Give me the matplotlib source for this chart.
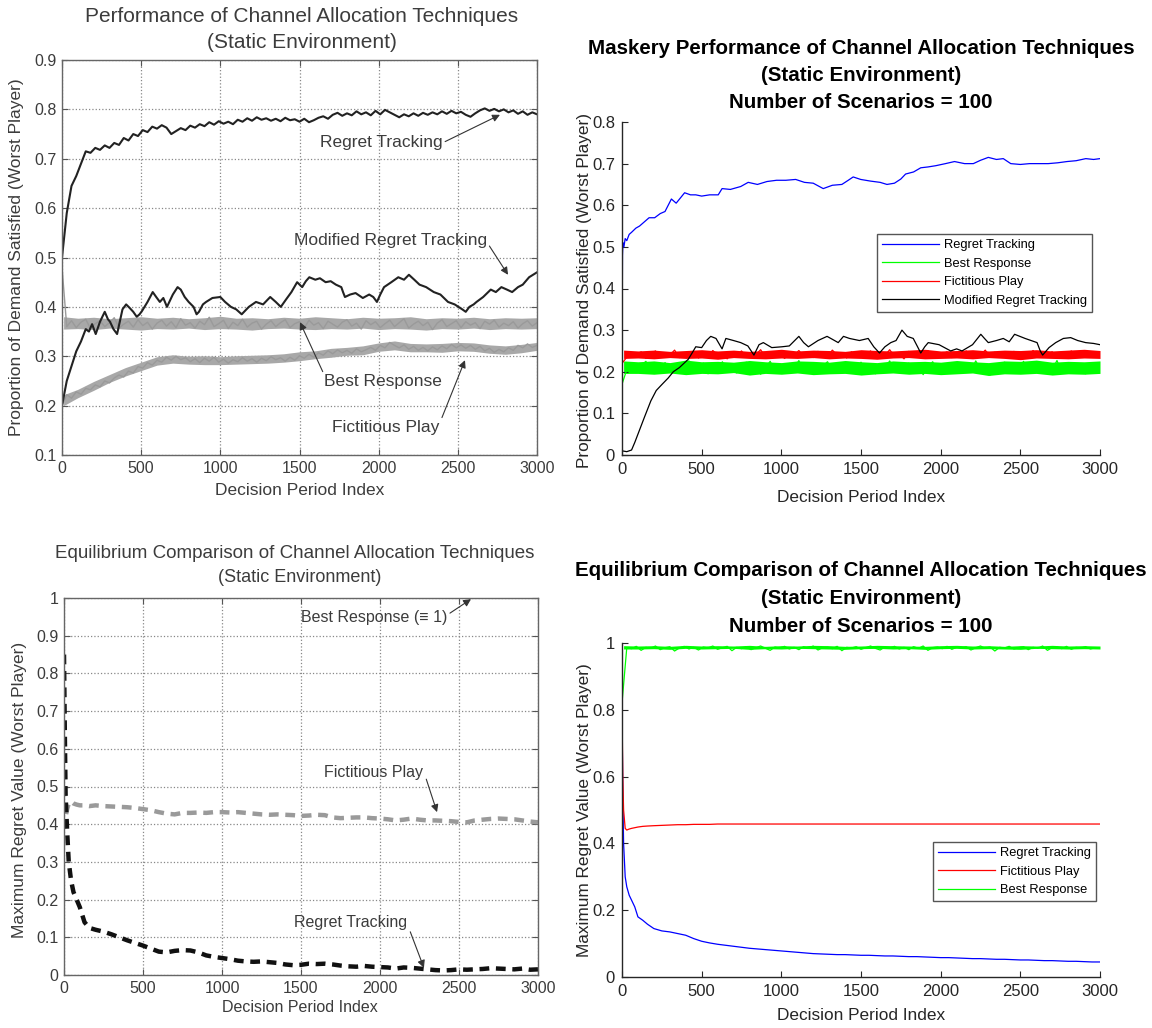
import numpy as np
import matplotlib
matplotlib.use("Agg")
import matplotlib.pyplot as plt

# ---------------- data ----------------
x_ticks = [0, 500, 1000, 1500, 2000, 2500, 3000]
x_ticklabels = ["0", "500", "1000", "1500", "2000", "2500", "3000"]

# x positions where the upper / lower edges of the noisy bands were read
band_x = [10, 100, 200, 300, 400, 500, 600, 700, 800, 900, 1000, 1100, 1200, 1300, 1400, 1500, 1600,
          1700, 1800, 1900, 2000, 2100, 2200, 2300, 2400, 2500, 2600, 2700, 2800, 2900, 3000]

# top left: Performance (scanned figure)
tl_rt = [0.50, 0.59, 0.645, 0.665, 0.69, 0.715, 0.712, 0.722, 0.718, 0.727, 0.722, 0.732, 0.728, 0.742,
         0.737, 0.75, 0.746, 0.758, 0.754, 0.765, 0.761, 0.768, 0.763, 0.75, 0.756, 0.762, 0.758, 0.767,
         0.763, 0.77, 0.766, 0.774, 0.769, 0.776, 0.771, 0.775, 0.77, 0.779, 0.775, 0.782, 0.777, 0.784,
         0.779, 0.782, 0.777, 0.781, 0.776, 0.783, 0.778, 0.78, 0.775, 0.781, 0.774, 0.778, 0.783, 0.786,
         0.781, 0.789, 0.793, 0.787, 0.792, 0.788, 0.796, 0.79, 0.794, 0.788, 0.797, 0.79, 0.799, 0.794,
         0.789, 0.784, 0.79, 0.786, 0.792, 0.787, 0.793, 0.789, 0.794, 0.79, 0.796, 0.791, 0.797, 0.792,
         0.795, 0.789, 0.785, 0.792, 0.798, 0.802, 0.797, 0.801, 0.796, 0.8, 0.794, 0.798, 0.791, 0.796,
         0.789, 0.794, 0.79]
tl_br = [0.48, 0.36, 0.372, 0.358, 0.369, 0.375, 0.356, 0.366, 0.372, 0.36, 0.368, 0.378, 0.357, 0.365,
         0.371, 0.359, 0.374, 0.362, 0.369, 0.355, 0.367, 0.373, 0.361, 0.37, 0.358, 0.376, 0.363, 0.368,
         0.357, 0.371, 0.364, 0.379, 0.36, 0.366, 0.373, 0.356, 0.369, 0.362, 0.375, 0.359, 0.367, 0.371,
         0.355, 0.365, 0.372, 0.36, 0.368, 0.374, 0.358, 0.366, 0.37, 0.357, 0.373, 0.363, 0.368, 0.356,
         0.371, 0.365, 0.359, 0.369, 0.374, 0.361, 0.367, 0.355, 0.372, 0.364, 0.37, 0.358, 0.366, 0.373,
         0.36, 0.368, 0.376, 0.357, 0.365, 0.371, 0.362, 0.369, 0.354, 0.367, 0.374, 0.36, 0.366, 0.372,
         0.358, 0.37, 0.363, 0.368, 0.356, 0.371, 0.365, 0.373, 0.359, 0.367, 0.362, 0.37, 0.357, 0.366,
         0.372, 0.361, 0.368]
tl_br_lo = [0.355, 0.356, 0.354, 0.357, 0.355, 0.353, 0.356, 0.355, 0.357, 0.354, 0.356, 0.355, 0.353,
            0.356, 0.357, 0.355, 0.354, 0.356, 0.355, 0.357, 0.354, 0.356, 0.355, 0.353, 0.356, 0.355,
            0.357, 0.354, 0.356, 0.355, 0.356]
tl_br_hi = [0.38, 0.377, 0.379, 0.376, 0.378, 0.38, 0.377, 0.379, 0.376, 0.378, 0.381, 0.377, 0.378,
            0.376, 0.379, 0.377, 0.38, 0.378, 0.376, 0.379, 0.377, 0.378, 0.38, 0.376, 0.378, 0.377,
            0.379, 0.376, 0.378, 0.377, 0.378]
tl_fp = [0.20, 0.222, 0.215, 0.228, 0.223, 0.235, 0.232, 0.242, 0.238, 0.25, 0.246, 0.256, 0.262, 0.258,
         0.27, 0.266, 0.279, 0.276, 0.287, 0.282, 0.292, 0.288, 0.298, 0.292, 0.3, 0.293, 0.297, 0.289,
         0.295, 0.287, 0.296, 0.29, 0.298, 0.288, 0.294, 0.286, 0.293, 0.289, 0.297, 0.29, 0.295, 0.288,
         0.296, 0.291, 0.299, 0.293, 0.297, 0.29, 0.298, 0.292, 0.301, 0.296, 0.304, 0.298, 0.307, 0.302,
         0.311, 0.305, 0.313, 0.307, 0.312, 0.306, 0.315, 0.309, 0.313, 0.318, 0.312, 0.322, 0.317, 0.328,
         0.322, 0.317, 0.323, 0.314, 0.32, 0.312, 0.318, 0.311, 0.319, 0.313, 0.321, 0.315, 0.324, 0.317,
         0.323, 0.316, 0.322, 0.314, 0.32, 0.311, 0.316, 0.308, 0.314, 0.309, 0.317, 0.312, 0.322, 0.317,
         0.325, 0.318, 0.322]
tl_fp_lo = [0.2, 0.216, 0.231, 0.247, 0.26, 0.271, 0.282, 0.286, 0.284, 0.283, 0.283, 0.284, 0.285, 0.286,
            0.288, 0.291, 0.295, 0.298, 0.302, 0.303, 0.31, 0.313, 0.309, 0.309, 0.308, 0.311, 0.31, 0.306,
            0.304, 0.307, 0.312]
tl_fp_hi = [0.222, 0.233, 0.249, 0.263, 0.277, 0.288, 0.299, 0.303, 0.3, 0.301, 0.299, 0.301, 0.302,
            0.303, 0.305, 0.309, 0.311, 0.316, 0.318, 0.321, 0.327, 0.331, 0.326, 0.325, 0.326, 0.328,
            0.327, 0.323, 0.321, 0.324, 0.328]
tl_mrt_x = [0, 30, 60, 90, 120, 150, 170, 190, 213, 240, 270, 290, 303, 325, 348, 365, 382, 405, 427, 450,
            472, 490, 506, 540, 573, 595, 618, 640, 663, 700, 730, 750, 775, 800, 831, 850, 865, 890, 910,
            950, 1000, 1030, 1067, 1100, 1135, 1180, 1225, 1270, 1315, 1350, 1382, 1415, 1449, 1485, 1517,
            1540, 1562, 1600, 1629, 1665, 1697, 1730, 1764, 1775, 1787, 1820, 1854, 1900, 1940, 1966, 1989,
            2010, 2034, 2080, 2124, 2160, 2191, 2225, 2258, 2300, 2348, 2390, 2438, 2480, 2528, 2550, 2573,
            2600, 2618, 2660, 2708, 2740, 2775, 2810, 2843, 2880, 2910, 2950, 3000]
tl_mrt_y = [0.20, 0.25, 0.28, 0.31, 0.33, 0.355, 0.35, 0.365, 0.345, 0.37, 0.39, 0.375, 0.37, 0.355, 0.345,
            0.37, 0.395, 0.405, 0.398, 0.39, 0.38, 0.385, 0.392, 0.41, 0.43, 0.42, 0.41, 0.418, 0.40, 0.425,
            0.44, 0.435, 0.42, 0.41, 0.40, 0.385, 0.39, 0.405, 0.41, 0.418, 0.42, 0.41, 0.40, 0.395, 0.385,
            0.40, 0.41, 0.405, 0.42, 0.41, 0.40, 0.415, 0.43, 0.45, 0.44, 0.452, 0.46, 0.455, 0.458, 0.45,
            0.452, 0.445, 0.44, 0.43, 0.42, 0.425, 0.428, 0.418, 0.425, 0.42, 0.41, 0.425, 0.44, 0.45, 0.46,
            0.455, 0.465, 0.455, 0.445, 0.44, 0.43, 0.425, 0.41, 0.405, 0.395, 0.39, 0.40, 0.405, 0.41, 0.42,
            0.435, 0.43, 0.44, 0.435, 0.43, 0.44, 0.445, 0.46, 0.47]

# top right: Maskery performance
tr_rt_x = [0, 3, 6, 12, 20, 30, 45, 60, 87, 110, 140, 170, 205, 240, 270, 290, 310, 340, 393, 430, 463, 500,
           550, 604, 628, 680, 745, 792, 850, 910, 970, 1028, 1090, 1145, 1200, 1263, 1320, 1380, 1420, 1451,
           1498, 1560, 1620, 1663, 1710, 1750, 1780, 1830, 1875, 1920, 1969, 2030, 2087, 2150, 2205, 2250,
           2299, 2350, 2393, 2440, 2500, 2558, 2620, 2675, 2735, 2793, 2850, 2911, 2960, 3000]
tr_rt_y = [0.20, 0.48, 0.51, 0.50, 0.52, 0.515, 0.53, 0.535, 0.545, 0.55, 0.56, 0.57, 0.57, 0.58, 0.585, 0.60,
           0.615, 0.605, 0.63, 0.625, 0.625, 0.622, 0.625, 0.625, 0.64, 0.638, 0.645, 0.655, 0.65, 0.657,
           0.66, 0.66, 0.662, 0.655, 0.653, 0.64, 0.648, 0.65, 0.66, 0.668, 0.662, 0.658, 0.655, 0.65,
           0.653, 0.663, 0.675, 0.68, 0.69, 0.692, 0.695, 0.70, 0.705, 0.70, 0.70, 0.708, 0.715, 0.71,
           0.712, 0.70, 0.698, 0.70, 0.70, 0.70, 0.702, 0.705, 0.707, 0.712, 0.71, 0.712]
tr_br = [0.17, 0.205, 0.22, 0.198, 0.215, 0.225, 0.2, 0.212, 0.196, 0.222, 0.207, 0.218, 0.199, 0.214, 0.226,
         0.201, 0.209, 0.221, 0.195, 0.213, 0.204, 0.224, 0.2, 0.216, 0.197, 0.211, 0.223, 0.203, 0.219,
         0.194, 0.21, 0.225, 0.202, 0.215, 0.198, 0.22, 0.206, 0.227, 0.199, 0.212, 0.218, 0.196, 0.214,
         0.224, 0.201, 0.209, 0.22, 0.197, 0.216, 0.205, 0.223, 0.2, 0.213, 0.195, 0.219, 0.208, 0.226,
         0.202, 0.214, 0.198, 0.221, 0.206, 0.217, 0.193, 0.212, 0.224, 0.2, 0.215, 0.204, 0.222, 0.197,
         0.211, 0.219, 0.201, 0.226, 0.205, 0.213, 0.192, 0.218, 0.207, 0.223, 0.199, 0.214, 0.203, 0.225,
         0.196, 0.212, 0.22, 0.2, 0.216, 0.205, 0.227, 0.198, 0.213, 0.221, 0.202, 0.217, 0.195, 0.211,
         0.222, 0.206]
tr_br_lo = [0.196, 0.196, 0.194, 0.197, 0.193, 0.196, 0.195, 0.198, 0.192, 0.196, 0.194, 0.197, 0.193,
            0.195, 0.196, 0.192, 0.195, 0.197, 0.194, 0.196, 0.193, 0.195, 0.197, 0.191, 0.195, 0.194,
            0.196, 0.192, 0.195, 0.194, 0.196]
tr_br_hi = [0.226, 0.224, 0.226, 0.222, 0.228, 0.224, 0.225, 0.223, 0.227, 0.224, 0.222, 0.226, 0.225,
            0.223, 0.227, 0.224, 0.222, 0.226, 0.224, 0.225, 0.223, 0.227, 0.224, 0.222, 0.226, 0.225,
            0.228, 0.223, 0.225, 0.224, 0.226]
tr_fp = [0.22, 0.235, 0.245, 0.238, 0.248, 0.232, 0.242, 0.25, 0.236, 0.244, 0.24, 0.252, 0.234, 0.246,
         0.239, 0.249, 0.233, 0.243, 0.237, 0.251, 0.24, 0.245, 0.231, 0.247, 0.238, 0.25, 0.235, 0.244,
         0.241, 0.253, 0.236, 0.246, 0.239, 0.248, 0.232, 0.243, 0.24, 0.251, 0.237, 0.245, 0.234, 0.249,
         0.242, 0.236, 0.252, 0.24, 0.246, 0.233, 0.248, 0.238, 0.244, 0.241, 0.25, 0.235, 0.247, 0.239,
         0.253, 0.237, 0.243, 0.231, 0.249, 0.24, 0.246, 0.236, 0.251, 0.238, 0.244, 0.242, 0.248, 0.234,
         0.245, 0.239, 0.25, 0.237, 0.243, 0.241, 0.252, 0.235, 0.247, 0.238, 0.244, 0.24, 0.249, 0.233,
         0.246, 0.239, 0.251, 0.236, 0.245, 0.242, 0.248, 0.237, 0.243, 0.24, 0.25, 0.235, 0.246, 0.239,
         0.244, 0.241, 0.247]
tr_fp_lo = [0.232, 0.233, 0.231, 0.234, 0.232, 0.233, 0.23, 0.234, 0.232, 0.231, 0.233, 0.232, 0.234,
            0.231, 0.233, 0.232, 0.23, 0.233, 0.234, 0.231, 0.232, 0.233, 0.231, 0.234, 0.232, 0.229,
            0.233, 0.232, 0.231, 0.233, 0.232]
tr_fp_hi = [0.252, 0.25, 0.252, 0.249, 0.251, 0.253, 0.25, 0.252, 0.249, 0.251, 0.254, 0.25, 0.252,
            0.251, 0.249, 0.253, 0.251, 0.25, 0.252, 0.254, 0.25, 0.251, 0.253, 0.25, 0.252, 0.251,
            0.253, 0.25, 0.252, 0.254, 0.251]
tr_mrt_x = [0, 30, 60, 80, 110, 140, 181, 215, 252, 290, 322, 360, 416, 440, 463, 500, 530, 557, 590, 628,
            652, 700, 745, 790, 828, 860, 887, 940, 1004, 1050, 1110, 1140, 1170, 1230, 1287, 1320, 1357,
            1390, 1428, 1490, 1545, 1580, 1616, 1650, 1687, 1720, 1757, 1790, 1828, 1855, 1875, 1900, 1922,
            1990, 2063, 2100, 2134, 2200, 2252, 2275, 2299, 2350, 2393, 2430, 2464, 2530, 2605, 2625, 2640,
            2680, 2722, 2770, 2816, 2860, 2910, 2960, 3000]
tr_mrt_y = [0.01, 0.008, 0.012, 0.03, 0.06, 0.09, 0.13, 0.155, 0.17, 0.185, 0.20, 0.21, 0.23, 0.245, 0.26,
            0.258, 0.275, 0.285, 0.28, 0.255, 0.28, 0.275, 0.27, 0.262, 0.24, 0.265, 0.27, 0.258, 0.26,
            0.262, 0.285, 0.27, 0.26, 0.275, 0.285, 0.278, 0.27, 0.285, 0.28, 0.275, 0.28, 0.26, 0.245,
            0.26, 0.27, 0.275, 0.30, 0.285, 0.28, 0.26, 0.245, 0.26, 0.27, 0.265, 0.25, 0.255, 0.25, 0.265,
            0.29, 0.28, 0.27, 0.275, 0.28, 0.272, 0.29, 0.28, 0.27, 0.25, 0.24, 0.258, 0.27, 0.28, 0.282,
            0.275, 0.27, 0.268, 0.265]

# bottom panels: maximum regret
eq_x_early = [0, 5, 10, 20, 30, 45, 60, 80, 100, 130, 160]
eq_x = eq_x_early + list(range(200, 3001, 50))
bl_rt = [0.85, 0.65, 0.48, 0.38, 0.3, 0.25, 0.22, 0.2, 0.18, 0.14, 0.125, 0.12, 0.115, 0.108, 0.1, 0.092,
         0.085, 0.078, 0.07, 0.062, 0.06, 0.064, 0.066, 0.065, 0.06, 0.052, 0.048, 0.045, 0.042, 0.038,
         0.036, 0.035, 0.036, 0.034, 0.032, 0.028, 0.026, 0.027, 0.03, 0.029, 0.03, 0.028, 0.025, 0.023,
         0.022, 0.024, 0.022, 0.021, 0.02, 0.017, 0.02, 0.019, 0.017, 0.015, 0.013, 0.012, 0.013, 0.015,
         0.014, 0.015, 0.016, 0.018, 0.017, 0.016, 0.015, 0.017, 0.014, 0.015]
bl_fp = [0.5, 0.43, 0.42, 0.44, 0.455, 0.46, 0.455, 0.452, 0.45, 0.45, 0.448, 0.45, 0.448, 0.447, 0.446,
         0.445, 0.443, 0.44, 0.437, 0.432, 0.428, 0.426, 0.43, 0.43, 0.431, 0.43, 0.432, 0.432, 0.431,
         0.432, 0.43, 0.428, 0.426, 0.425, 0.426, 0.425, 0.424, 0.422, 0.423, 0.425, 0.424, 0.418, 0.416,
         0.417, 0.418, 0.418, 0.416, 0.415, 0.413, 0.41, 0.412, 0.415, 0.412, 0.41, 0.41, 0.409, 0.408,
         0.406, 0.405, 0.41, 0.412, 0.414, 0.415, 0.414, 0.413, 0.41, 0.407, 0.405]
bl_br_x = [0, 3000]
bl_br = [1.0, 1.0]

br_rt = [0.8, 0.55, 0.4, 0.3, 0.27, 0.245, 0.23, 0.21, 0.18, 0.17, 0.158, 0.145, 0.138, 0.135, 0.13, 0.125,
         0.115, 0.107, 0.102, 0.098, 0.095, 0.092, 0.089, 0.086, 0.084, 0.082, 0.08, 0.078, 0.076, 0.074,
         0.072, 0.07, 0.069, 0.068, 0.067, 0.067, 0.066, 0.065, 0.065, 0.064, 0.063, 0.063, 0.062, 0.061,
         0.061, 0.06, 0.059, 0.058, 0.058, 0.057, 0.056, 0.055, 0.055, 0.054, 0.053, 0.053, 0.052, 0.051,
         0.051, 0.05, 0.049, 0.049, 0.048, 0.047, 0.047, 0.046, 0.045, 0.045]
br_fp = [0.8, 0.6, 0.5, 0.445, 0.44, 0.443, 0.445, 0.447, 0.449, 0.451, 0.452, 0.453, 0.454, 0.455, 0.456,
         0.456, 0.457, 0.457, 0.457, 0.458, 0.458, 0.458, 0.458, 0.458, 0.458, 0.458, 0.458, 0.458, 0.458,
         0.458, 0.458, 0.458, 0.458, 0.458, 0.458, 0.458, 0.458, 0.458, 0.458, 0.458, 0.458, 0.458, 0.458,
         0.458, 0.458, 0.458, 0.458, 0.458, 0.458, 0.458, 0.458, 0.458, 0.458, 0.458, 0.458, 0.458, 0.458,
         0.458, 0.458, 0.458, 0.458, 0.458, 0.458, 0.458, 0.458, 0.458, 0.458, 0.458]
br_br = [0.82, 0.986, 0.983, 0.99, 0.978, 0.987, 0.984, 0.991, 0.98, 0.986, 0.989, 0.976, 0.985, 0.99, 0.982,
         0.987, 0.979, 0.988, 0.985, 0.991, 0.981, 0.986, 0.99, 0.977, 0.987, 0.983, 0.989, 0.98, 0.986,
         0.991, 0.984, 0.978, 0.988, 0.985, 0.99, 0.982, 0.987, 0.98, 0.989, 0.984, 0.991, 0.979, 0.986,
         0.988, 0.983, 0.99, 0.977, 0.987, 0.985, 0.989, 0.981, 0.986, 0.991, 0.984, 0.979, 0.988, 0.985,
         0.99, 0.982, 0.987, 0.98, 0.989, 0.984, 0.991, 0.978, 0.986, 0.988, 0.983, 0.99, 0.981, 0.987,
         0.985, 0.989, 0.979, 0.986, 0.991, 0.984, 0.988, 0.976, 0.987, 0.985, 0.99, 0.982, 0.986, 0.989,
         0.98, 0.987, 0.984, 0.991, 0.978, 0.986, 0.988, 0.983, 0.99, 0.981, 0.987, 0.985, 0.989, 0.982,
         0.986, 0.984]
br_br_lo = [0.982, 0.982, 0.983, 0.981, 0.984, 0.982, 0.983, 0.984, 0.981, 0.983, 0.982, 0.984, 0.983,
            0.982, 0.981, 0.983, 0.984, 0.982, 0.983, 0.981, 0.983, 0.984, 0.982, 0.983, 0.982, 0.981,
            0.984, 0.983, 0.982, 0.983, 0.982]
br_br_hi = [0.992, 0.991, 0.992, 0.99, 0.993, 0.991, 0.992, 0.991, 0.993, 0.99, 0.992, 0.991, 0.993,
            0.992, 0.99, 0.991, 0.993, 0.992, 0.991, 0.99, 0.992, 0.993, 0.991, 0.992, 0.99, 0.992,
            0.991, 0.993, 0.991, 0.992, 0.991]

# ---------------- fonts / helpers ----------------
FF = ["Liberation Sans", "DejaVu Sans"]
GRAYTXT = "#3c3c3c"
RTXT = "#262626"

W, H = 1152, 1028
fig = plt.figure(figsize=(W / 100, H / 100), dpi=100)


def px_axes(l, t, r, b):
    return fig.add_axes([l / W, 1 - b / H, (r - l) / W, (b - t) / H])


def style_left(ax, yt, ytl):
    ax.set_xlim(0, 3000)
    ax.set_ylim(yt[0], yt[-1])
    ax.set_xticks(x_ticks)
    ax.set_xticklabels(x_ticklabels, family=FF, fontsize=11.5, color=GRAYTXT)
    ax.set_yticks(yt)
    ax.set_yticklabels(ytl, family=FF, fontsize=11.5, color=GRAYTXT)
    ax.tick_params(direction="in", length=4, top=True, right=True, color="#555555", pad=4)
    for s in ax.spines.values():
        s.set_color("#666666")
        s.set_linewidth(1.0)
    ax.grid(True, ls=":", color="#888888", lw=0.9)
    ax.set_axisbelow(True)


def style_right(ax, yt, ytl):
    ax.set_xlim(0, 3000)
    ax.set_ylim(yt[0], yt[-1])
    ax.set_xticks(x_ticks)
    ax.set_xticklabels(x_ticklabels, family=FF, fontsize=12, color=RTXT)
    ax.set_yticks(yt)
    ax.set_yticklabels(ytl, family=FF, fontsize=12, color=RTXT)
    ax.tick_params(direction="in", length=4, color=RTXT, pad=5)
    ax.spines["top"].set_visible(False)
    ax.spines["right"].set_visible(False)
    for s in ("left", "bottom"):
        ax.spines[s].set_color(RTXT)
        ax.spines[s].set_linewidth(1.0)


def right_legend(ax, anchor):
    leg = ax.legend(loc="upper right", bbox_to_anchor=anchor, prop=dict(family=FF, size=9.3),
                    fancybox=False, framealpha=1, edgecolor="#555555", handlelength=4.4,
                    borderpad=0.4, labelspacing=0.5, handletextpad=0.4, borderaxespad=0)
    leg.get_frame().set_linewidth(1.0)


arrow = dict(arrowstyle="-|>", color="#333333", lw=0.8, mutation_scale=11, shrinkA=0, shrinkB=0)

# ---------------- top left ----------------
ax1 = px_axes(62, 60, 537, 455)
ax1.fill_between(band_x, tl_br_lo, tl_br_hi, color="#a8a8a8", lw=0)
ax1.plot(np.linspace(0, 3000, len(tl_br)), tl_br, color="#9a9a9a", lw=1.0)
ax1.fill_between(band_x, tl_fp_lo, tl_fp_hi, color="#a8a8a8", lw=0)
ax1.plot(np.linspace(0, 3000, len(tl_fp)), tl_fp, color="#9a9a9a", lw=1.0)
ax1.plot(tl_mrt_x, tl_mrt_y, color="#222222", lw=1.5)
ax1.plot(np.linspace(0, 3000, len(tl_rt)), tl_rt, color="#222222", lw=1.5)
style_left(ax1, [0.1, 0.2, 0.3, 0.4, 0.5, 0.6, 0.7, 0.8, 0.9],
           ["0.1", "0.2", "0.3", "0.4", "0.5", "0.6", "0.7", "0.8", "0.9"])
ann = dict(family=FF, fontsize=12.5, color=GRAYTXT, ha="center", va="center")
ax1.annotate("Regret Tracking", xy=(2766, 0.789), xytext=(2015, 0.732),
             arrowprops=dict(arrow, relpos=(1, 0.5)), **ann)
ax1.annotate("Modified Regret Tracking", xy=(2817, 0.465), xytext=(2072, 0.535),
             arrowprops=dict(arrow, relpos=(1, 0.4)), **ann)
ax1.annotate("Best Response", xy=(1503, 0.369), xytext=(2027, 0.248),
             arrowprops=dict(arrow, relpos=(0, 1)), **ann)
ax1.annotate("Fictitious Play", xy=(2545, 0.292), xytext=(2046, 0.155),
             arrowprops=dict(arrow, relpos=(1, 0.8)), **ann)
fig.text(302 / W, 1 - 17 / H, "Performance of Channel Allocation Techniques", family=FF,
         fontsize=15, color=GRAYTXT, ha="center", va="center")
fig.text(302 / W, 1 - 42 / H, "(Static Environment)", family=FF,
         fontsize=15, color=GRAYTXT, ha="center", va="center")
fig.text(300 / W, 1 - 490 / H, "Decision Period Index", family=FF, fontsize=12.5,
         color=GRAYTXT, ha="center", va="center")
fig.text(17 / W, 1 - 257 / H, "Proportion of Demand Satisfied (Worst Player)", family=FF,
         fontsize=12.5, color=GRAYTXT, ha="center", va="center", rotation=90)

# ---------------- top right ----------------
ax2 = px_axes(622, 122, 1100, 455)
ax2.plot(tr_rt_x, tr_rt_y, color="#0000ff", lw=0.9, label="Regret Tracking")
ax2.fill_between(band_x, tr_br_lo, tr_br_hi, color="#00ff00", lw=0)
ax2.plot(np.linspace(0, 3000, len(tr_br)), tr_br, color="#00ff00", lw=0.9, label="Best Response")
ax2.fill_between(band_x, tr_fp_lo, tr_fp_hi, color="#ff0000", lw=0)
ax2.plot(np.linspace(0, 3000, len(tr_fp)), tr_fp, color="#ff0000", lw=0.9, label="Fictitious Play")
ax2.plot(tr_mrt_x, tr_mrt_y, color="#000000", lw=0.9, label="Modified Regret Tracking")
style_right(ax2, [0, 0.1, 0.2, 0.3, 0.4, 0.5, 0.6, 0.7, 0.8],
            ["0", "0.1", "0.2", "0.3", "0.4", "0.5", "0.6", "0.7", "0.8"])
right_legend(ax2, (0.983, 0.664))
for i, line in enumerate(["Maskery Performance of Channel Allocation Techniques",
                          "(Static Environment)", "Number of Scenarios = 100"]):
    fig.text(861 / W, 1 - (48 + 27.5 * i) / H, line, family=FF, fontsize=14.8,
             fontweight="bold", ha="center", va="center")
fig.text(861 / W, 1 - 497 / H, "Decision Period Index", family=FF, fontsize=12.4,
         color=RTXT, ha="center", va="center")
fig.text(584 / W, 1 - 290 / H, "Proportion of Demand Satisfied (Worst Player)", family=FF,
         fontsize=12.4, color=RTXT, ha="center", va="center", rotation=90)

# ---------------- bottom left ----------------
ax3 = px_axes(64, 598, 538, 975)
ax3.plot(bl_br_x, bl_br, color="#555555", lw=1.2, ls=(0, (6, 2)))
ax3.plot(eq_x, bl_fp, color="#9a9a9a", lw=3.2, ls=(0, (2.2, 1.5)))
ax3.plot(eq_x, bl_rt, color="#111111", lw=3.2, ls=(0, (2.2, 1.5)))
style_left(ax3, [0, 0.1, 0.2, 0.3, 0.4, 0.5, 0.6, 0.7, 0.8, 0.9, 1.0],
           ["0", "0.1", "0.2", "0.3", "0.4", "0.5", "0.6", "0.7", "0.8", "0.9", "1"])
ann2 = dict(family=FF, fontsize=11.5, color=GRAYTXT, ha="center", va="center")
ax3.annotate("Best Response (\u2261 1)", xy=(2576, 0.997), xytext=(1962, 0.947),
             arrowprops=dict(arrow, relpos=(1, 0.7)), **ann2)
ax3.annotate("Fictitious Play", xy=(2361, 0.432), xytext=(1962, 0.538),
             arrowprops=dict(arrow, relpos=(1, 0.6)), **ann2)
ax3.annotate("Regret Tracking", xy=(2278, 0.019), xytext=(1816, 0.138),
             arrowprops=dict(arrow, relpos=(1, 0.4)), **ann2)
fig.text(295 / W, 1 - 553 / H, "Equilibrium Comparison of Channel Allocation Techniques", family=FF,
         fontsize=13.5, color=GRAYTXT, ha="center", va="center")
fig.text(300 / W, 1 - 577 / H, "(Static Environment)", family=FF,
         fontsize=13, color=GRAYTXT, ha="center", va="center")
fig.text(300 / W, 1 - 1008 / H, "Decision Period Index", family=FF, fontsize=11.5,
         color=GRAYTXT, ha="center", va="center")
fig.text(20 / W, 1 - 790 / H, "Maximum Regret Value (Worst Player)", family=FF,
         fontsize=12.5, color=GRAYTXT, ha="center", va="center", rotation=90)

# ---------------- bottom right ----------------
ax4 = px_axes(622, 643, 1100, 977)
ax4.plot(eq_x, br_rt, color="#0000ff", lw=0.9, label="Regret Tracking")
ax4.plot(eq_x, br_fp, color="#ff0000", lw=0.9, label="Fictitious Play")
ax4.fill_between(band_x, br_br_lo, br_br_hi, color="#00ff00", lw=0)
ax4.plot(np.linspace(0, 3000, len(br_br)), br_br, color="#00ff00", lw=0.9, label="Best Response")
style_right(ax4, [0, 0.2, 0.4, 0.6, 0.8, 1.0], ["0", "0.2", "0.4", "0.6", "0.8", "1"])
right_legend(ax4, (0.992, 0.404))
for i, line in enumerate(["Equilibrium Comparison of Channel Allocation Techniques",
                          "(Static Environment)", "Number of Scenarios = 100"]):
    fig.text(861 / W, 1 - (570 + 28 * i) / H, line, family=FF, fontsize=14.8,
             fontweight="bold", ha="center", va="center")
fig.text(861 / W, 1 - 1015 / H, "Decision Period Index", family=FF, fontsize=12.4,
         color=RTXT, ha="center", va="center")
fig.text(584 / W, 1 - 810 / H, "Maximum Regret Value (Worst Player)", family=FF,
         fontsize=12.4, color=RTXT, ha="center", va="center", rotation=90)

fig.savefig("out.png", dpi=100)
